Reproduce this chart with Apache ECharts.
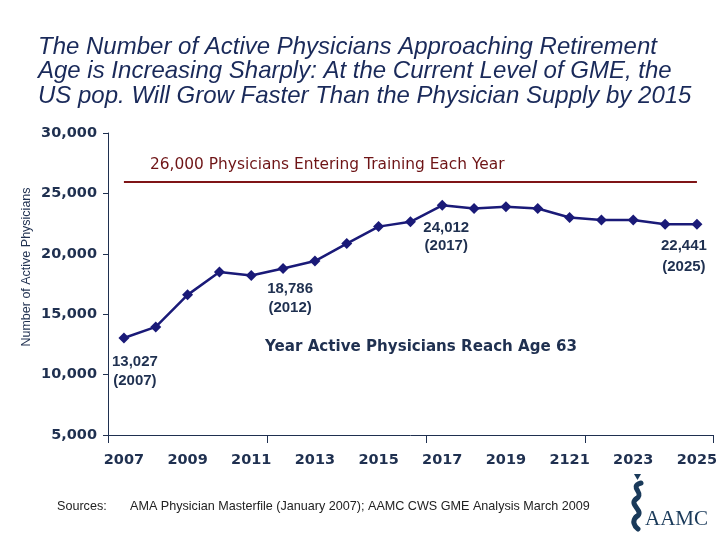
<!DOCTYPE html>
<html>
<head>
<meta charset="utf-8">
<script src="https://cdn.jsdelivr.net/npm/echarts@6/dist/echarts.min.js"></script>
<style>html,body{margin:0;padding:0;background:#fff;}#c{width:720px;height:540px;}</style>
</head>
<body>
<div id="c"></div>
<script>
// Data
const years = ['2007','2008','2009','2010','2011','2012','2013','2014','2015','2016','2017','2018','2019','2020','2121','2022','2023','2024','2025'];
const physicians = [13027, 13950, 16600, 18500, 18200, 18786, 19400, 20850, 22250, 22650, 24012, 23750, 23900, 23750, 23000, 22800, 22800, 22450, 22441];
const annotated = { 0: '13,027\n(2007)', 5: '18,786\n(2012)', 10: '24,012\n(2017)', 18: '22,441\n(2025)' };
const trainingLevel = 26000;
const yMin = 5000, yMax = 30000, yStep = 5000;

const navy = '#1f3050';
const logoColor = '#1a3a5a';
const labelOffsets = { 0: [11, 3], 5: [7, -1], 10: [4, 2], 18: [-13, 0] };
const labelLineHeights = { 0: 19, 5: 19, 10: 18, 18: 21 };

const seriesData = physicians.map((v, i) => {
  if (annotated[i] === undefined) return v;
  return {
    value: v,
    label: {
      show: true,
      position: 'bottom',
      distance: 6,
      offset: labelOffsets[i],
      formatter: annotated[i],
      color: navy,
      fontSize: 15,
      fontWeight: 'bold',
      fontFamily: 'Liberation Sans, Arial, sans-serif',
      lineHeight: labelLineHeights[i]
    }
  };
});

function curve(x1, y1, cx1, cy1, cx2, cy2, x2, y2) {
  return {
    type: 'bezierCurve',
    shape: { x1: x1, y1: y1, cpx1: cx1, cpy1: cy1, cpx2: cx2, cpy2: cy2, x2: x2, y2: y2 },
    style: { stroke: logoColor, lineWidth: 5, fill: null, lineCap: 'round' }
  };
}

const chart = echarts.init(document.getElementById('c'));
chart.setOption({
  backgroundColor: '#ffffff',
  animation: false,
  title: {
    text: 'The Number of Active Physicians Approaching Retirement\nAge is Increasing Sharply: At the Current Level of GME, the\nUS pop. Will Grow Faster Than the Physician Supply by 2015',
    left: 33, top: 30,
    textStyle: {
      color: '#1a2a5a', fontSize: 24, fontStyle: 'italic', fontWeight: 'normal',
      fontFamily: 'Liberation Sans, Arial, sans-serif', lineHeight: 24.5
    }
  },
  grid: { left: 108, right: 3, top: 133, bottom: 105, containLabel: false },
  xAxis: {
    type: 'category',
    data: years,
    boundaryGap: true,
    axisLine: { lineStyle: { color: navy, width: 1 } },
    axisTick: { show: true, interval: 4, length: 8, lineStyle: { color: navy } },
    axisLabel: {
      interval: 1, margin: 18, color: navy, fontSize: 14.5, fontWeight: 'bold',
      fontFamily: 'DejaVu Sans, Verdana, sans-serif'
    },
    splitLine: { show: false }
  },
  yAxis: {
    type: 'value',
    min: yMin, max: yMax, interval: yStep,
    axisLine: { show: true, lineStyle: { color: navy, width: 1 } },
    axisTick: { show: true, length: 5, lineStyle: { color: navy } },
    axisLabel: {
      margin: 11, color: navy, fontSize: 14.5, fontWeight: 'bold',
      fontFamily: 'DejaVu Sans, Verdana, sans-serif',
      formatter: v => v.toLocaleString('en-US')
    },
    splitLine: { show: false }
  },
  series: [{
    type: 'line',
    data: seriesData,
    symbol: 'diamond',
    symbolSize: 11,
    lineStyle: { color: '#1a1a78', width: 2.5 },
    itemStyle: { color: '#1a1a78' },
    label: { show: false },
    markLine: {
      silent: true,
      symbol: 'none',
      label: { show: false },
      lineStyle: { color: '#7f1416', width: 2, type: 'solid' },
      data: [[{ coord: [0, trainingLevel] }, { coord: [years.length - 1, trainingLevel] }]]
    }
  }],
  graphic: [
    {
      type: 'text', left: 150, top: 157,
      style: {
        text: '26,000 Physicians Entering Training Each Year',
        fill: '#6e1416', fontSize: 15.4, fontFamily: 'DejaVu Sans, Verdana, sans-serif'
      }
    },
    {
      type: 'text', left: 265, top: 340,
      style: {
        text: 'Year Active Physicians Reach Age 63',
        fill: navy, fontSize: 15.1, fontWeight: 'bold', fontFamily: 'DejaVu Sans, Verdana, sans-serif'
      }
    },
    {
      type: 'text', x: 27, y: 267, rotation: Math.PI / 2,
      style: {
        text: 'Number of Active Physicians',
        fill: navy, fontSize: 12.5, fontFamily: 'Liberation Sans, Arial, sans-serif',
        align: 'center', verticalAlign: 'middle'
      }
    },
    {
      type: 'text', left: 57, top: 500,
      style: {
        text: 'Sources:', fill: '#222222', fontSize: 12.6, fontFamily: 'Liberation Sans, Arial, sans-serif'
      }
    },
    {
      type: 'text', left: 130, top: 500,
      style: {
        text: 'AMA Physician Masterfile (January 2007); AAMC CWS GME Analysis March 2009',
        fill: '#222222', fontSize: 12.6, fontFamily: 'Liberation Sans, Arial, sans-serif'
      }
    },
    {
      type: 'polygon',
      shape: { points: [[634, 474], [641, 474], [637.5, 480]] },
      style: { fill: logoColor }
    },
    curve(641, 483, 628, 487, 646, 493, 636, 499),
    curve(636, 499, 628, 505, 646, 511, 636, 517),
    curve(636, 517, 632, 521, 634, 526, 638, 529),
    {
      type: 'text', left: 645, top: 509,
      style: {
        text: 'AAMC', fill: logoColor, fontSize: 21, fontFamily: 'Liberation Serif, DejaVu Serif, serif'
      }
    }
  ]
});
</script>
</body>
</html>
